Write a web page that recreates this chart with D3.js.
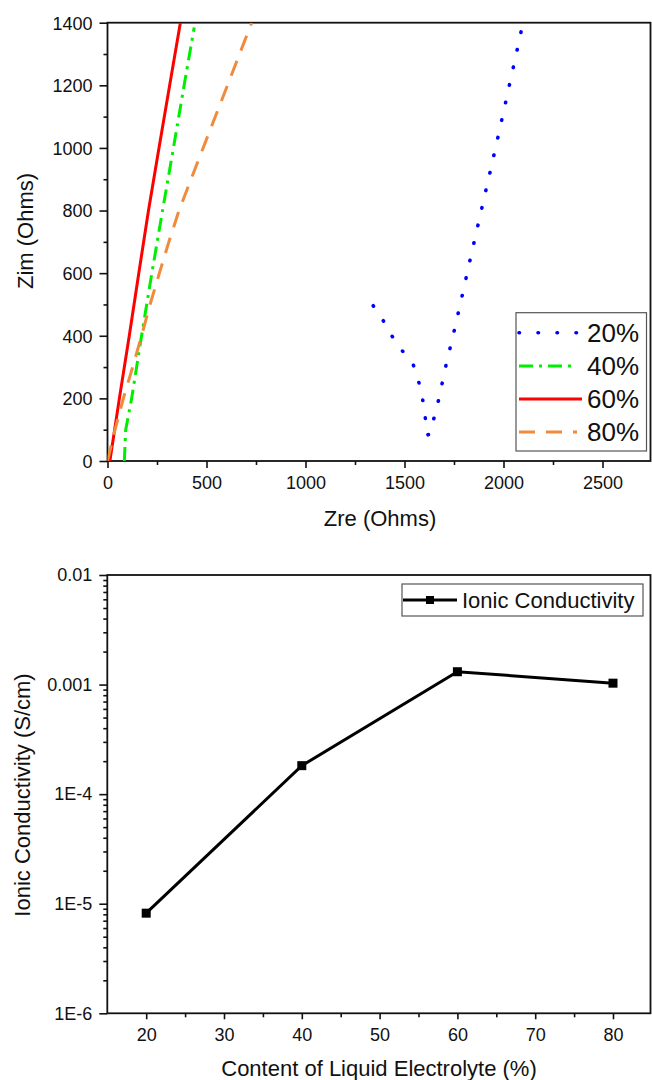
<!DOCTYPE html>
<html>
<head>
<meta charset="utf-8">
<script src="https://cdn.jsdelivr.net/npm/d3@7"></script>
<style>
  html, body { margin: 0; padding: 0; background: #fff; }
  svg { display: block; font-family: "Liberation Sans", Arial, sans-serif; }
</style>
</head>
<body>
<svg id="chart" width="652" height="1080"></svg>
<script>
// ---------- Data: top chart (Nyquist plot) ----------
const zre20 = [1342, 1393, 1437, 1489, 1545, 1573, 1592, 1605, 1615, 1629, 1650, 1673, 1710, 1752, 1792, 1831, 1971, 2092];
const zim20 = [496, 448, 399, 352, 306, 250, 195, 138, 83, 86, 140, 197, 307, 419, 530, 642, 1031, 1380];
const zre40 = [85, 92, 122, 172, 224, 278, 333, 387, 438];
const zim40 = [0, 100, 200, 400, 600, 800, 1000, 1200, 1385];
const zre60 = [12, 60, 110, 158, 207, 260, 314, 368];
const zim60 = [0, 200, 400, 600, 800, 1000, 1200, 1400];
const zre80 = [0, 38, 80, 127, 172, 215, 262, 310, 361, 422, 483, 606, 728];
const zim80 = [0, 100, 200, 300, 400, 500, 600, 700, 800, 900, 1000, 1200, 1400];
const seriesLabels = ["20%", "40%", "60%", "80%"];
const zreTicks = [0, 500, 1000, 1500, 2000, 2500];
const zimTicks = [0, 200, 400, 600, 800, 1000, 1200, 1400];

// ---------- Data: bottom chart ----------
const contentPct = [20, 40, 60, 80];
const conductivity = [8.2e-6, 1.82e-4, 1.31e-3, 1.03e-3];
const contentTicks = [20, 30, 40, 50, 60, 70, 80];
const condTicks = [1e-6, 1e-5, 1e-4, 1e-3, 1e-2];
const condTickLabels = ["1E-6", "1E-5", "1E-4", "0.001", "0.01"];

const svg = d3.select("#chart");

function styleAxis(g) {
  g.select(".domain").remove();
  g.selectAll(".tick line").attr("stroke", "#111").attr("stroke-width", 1.6);
  g.selectAll(".tick text").attr("fill", "#111").style("font-size", "18px")
    .style("font-family", '"Liberation Sans", Arial, sans-serif');
}

// ================= TOP CHART =================
const T = { left: 107.5, right: 650.5, top: 22.7, bottom: 461 };
const xT = d3.scaleLinear().domain([0, 2743]).range([T.left, T.left + 2743 * 0.198]);
const yT = d3.scaleLinear().domain([0, 1400]).range([T.bottom, T.top]);

const gT = svg.append("g");
gT.append("defs").append("clipPath").attr("id", "clipT")
  .append("rect").attr("x", T.left).attr("y", T.top)
  .attr("width", T.right - T.left).attr("height", T.bottom - T.top);

// minor ticks
gT.append("g").attr("transform", `translate(0,${T.bottom})`)
  .call(d3.axisBottom(xT).tickValues(d3.range(250, 2750, 500)).tickSize(4).tickFormat(""))
  .call(styleAxis);
gT.append("g").attr("transform", `translate(${T.left},0)`)
  .call(d3.axisLeft(yT).tickValues(d3.range(100, 1400, 200)).tickSize(4).tickFormat(""))
  .call(styleAxis);
// major ticks
gT.append("g").attr("transform", `translate(0,${T.bottom})`)
  .call(d3.axisBottom(xT).tickValues(zreTicks).tickSize(7).tickPadding(8).tickFormat(d3.format("d")))
  .call(styleAxis);
gT.append("g").attr("transform", `translate(${T.left},0)`)
  .call(d3.axisLeft(yT).tickValues(zimTicks).tickSize(8).tickPadding(7).tickFormat(d3.format("d")))
  .call(styleAxis)
  .call(g => g.selectAll(".tick text").attr("dy", "0.35em"));

// frame
gT.append("rect").attr("x", T.left).attr("y", T.top)
  .attr("width", T.right - T.left).attr("height", T.bottom - T.top)
  .attr("fill", "none").attr("stroke", "#111").attr("stroke-width", 1.8);

const seriesT = [
  { zre: zre20, zim: zim20, color: "#0000ff", dash: "0.5,17.5", cap: "round", width: 3.6 },
  { zre: zre40, zim: zim40, color: "#00ee00", dash: "14,6,3,6", cap: "butt", width: 3 },
  { zre: zre60, zim: zim60, color: "#ff0000", dash: null, cap: "butt", width: 3 },
  { zre: zre80, zim: zim80, color: "#f28a3c", dash: "16,11", cap: "butt", width: 3 }
];
const lineT = d3.line().x(d => xT(d[0])).y(d => yT(d[1]));
const plotT = gT.append("g").attr("clip-path", "url(#clipT)");
seriesT.forEach(s => {
  plotT.append("path")
    .datum(s.zre.map((v, i) => [v, s.zim[i]]))
    .attr("d", lineT)
    .attr("fill", "none")
    .attr("stroke", s.color)
    .attr("stroke-width", s.width)
    .attr("stroke-linecap", s.cap)
    .attr("stroke-linejoin", "round")
    .attr("stroke-dasharray", s.dash);
});

// legend top
const legT = gT.append("g");
legT.append("rect").attr("x", 516).attr("y", 312.7).attr("width", 130.5).attr("height", 138.3)
  .attr("fill", "#fff").attr("stroke", "#555").attr("stroke-width", 1.2);
const legYs = [332.7, 366, 399, 432];
seriesT.forEach((s, i) => {
  legT.append("line").attr("x1", 519).attr("x2", i === 2 ? 582 : 577)
    .attr("y1", legYs[i]).attr("y2", legYs[i])
    .attr("stroke", s.color).attr("stroke-width", s.width)
    .attr("stroke-linecap", s.cap)
    .attr("stroke-dasharray", i === 0 ? "0.5,18.5" : s.dash);
  legT.append("text").attr("x", 587).attr("y", legYs[i]).attr("dy", "0.36em")
    .style("font-size", "26px").attr("fill", "#111").text(seriesLabels[i]);
});

// titles
gT.append("text").attr("x", 380).attr("y", 526).attr("text-anchor", "middle")
  .style("font-size", "22px").attr("fill", "#111").text("Zre (Ohms)");
gT.append("text").attr("transform", "translate(33,231) rotate(-90)").attr("text-anchor", "middle")
  .style("font-size", "22px").attr("fill", "#111").text("Zim (Ohms)");

// ================= BOTTOM CHART =================
const B = { left: 107.3, right: 650.5, top: 575, bottom: 1013.3 };
const xB = d3.scaleLinear().domain([15, 85]).range([B.left, B.left + 70 * 7.78]);
const yB = d3.scaleLog().domain([1e-6, 1e-2]).range([B.bottom, B.top]);

const gB = svg.append("g");
// minor ticks
const minorLog = [];
[1e-6, 1e-5, 1e-4, 1e-3].forEach(d => { for (let k = 2; k <= 9; k++) minorLog.push(d * k); });
gB.append("g").attr("transform", `translate(${B.left},0)`)
  .call(d3.axisLeft(yB).tickValues(minorLog).tickSize(4).tickFormat(""))
  .call(styleAxis);
gB.append("g").attr("transform", `translate(0,${B.bottom})`)
  .call(d3.axisBottom(xB).tickValues(d3.range(25, 85, 10)).tickSize(4).tickFormat(""))
  .call(styleAxis);
// major
gB.append("g").attr("transform", `translate(${B.left},0)`)
  .call(d3.axisLeft(yB).tickValues(condTicks).tickSize(8).tickPadding(7)
    .tickFormat((d, i) => condTickLabels[i]))
  .call(styleAxis);
gB.append("g").attr("transform", `translate(0,${B.bottom})`)
  .call(d3.axisBottom(xB).tickValues(contentTicks).tickSize(6).tickPadding(9).tickFormat(d3.format("d")))
  .call(styleAxis);

gB.append("rect").attr("x", B.left).attr("y", B.top)
  .attr("width", B.right - B.left).attr("height", B.bottom - B.top)
  .attr("fill", "none").attr("stroke", "#111").attr("stroke-width", 1.8);

const dataB = contentPct.map((c, i) => [c, conductivity[i]]);
gB.append("path").datum(dataB)
  .attr("d", d3.line().x(d => xB(d[0])).y(d => yB(d[1])))
  .attr("fill", "none").attr("stroke", "#000").attr("stroke-width", 3);
gB.selectAll("rect.pt").data(dataB).enter().append("rect").attr("class", "pt")
  .attr("x", d => xB(d[0]) - 4.5).attr("y", d => yB(d[1]) - 4.5)
  .attr("width", 9).attr("height", 9).attr("fill", "#000");

// legend bottom
const legB = gB.append("g");
legB.append("rect").attr("x", 402).attr("y", 584).attr("width", 241).attr("height", 32)
  .attr("fill", "#fff").attr("stroke", "#555").attr("stroke-width", 1.2);
legB.append("line").attr("x1", 403).attr("x2", 457).attr("y1", 600).attr("y2", 600)
  .attr("stroke", "#000").attr("stroke-width", 3);
legB.append("rect").attr("x", 426).attr("y", 596).attr("width", 8).attr("height", 8).attr("fill", "#000");
legB.append("text").attr("x", 462).attr("y", 600).attr("dy", "0.36em")
  .style("font-size", "22px").attr("fill", "#111").text("Ionic Conductivity");

gB.append("text").attr("x", 379).attr("y", 1076).attr("text-anchor", "middle")
  .style("font-size", "22px").attr("fill", "#111").text("Content of Liquid Electrolyte (%)");
gB.append("text").attr("transform", "translate(30,795) rotate(-90)").attr("text-anchor", "middle")
  .style("font-size", "22px").attr("fill", "#111").text("Ionic Conductivity (S/cm)");
</script>
</body>
</html>
